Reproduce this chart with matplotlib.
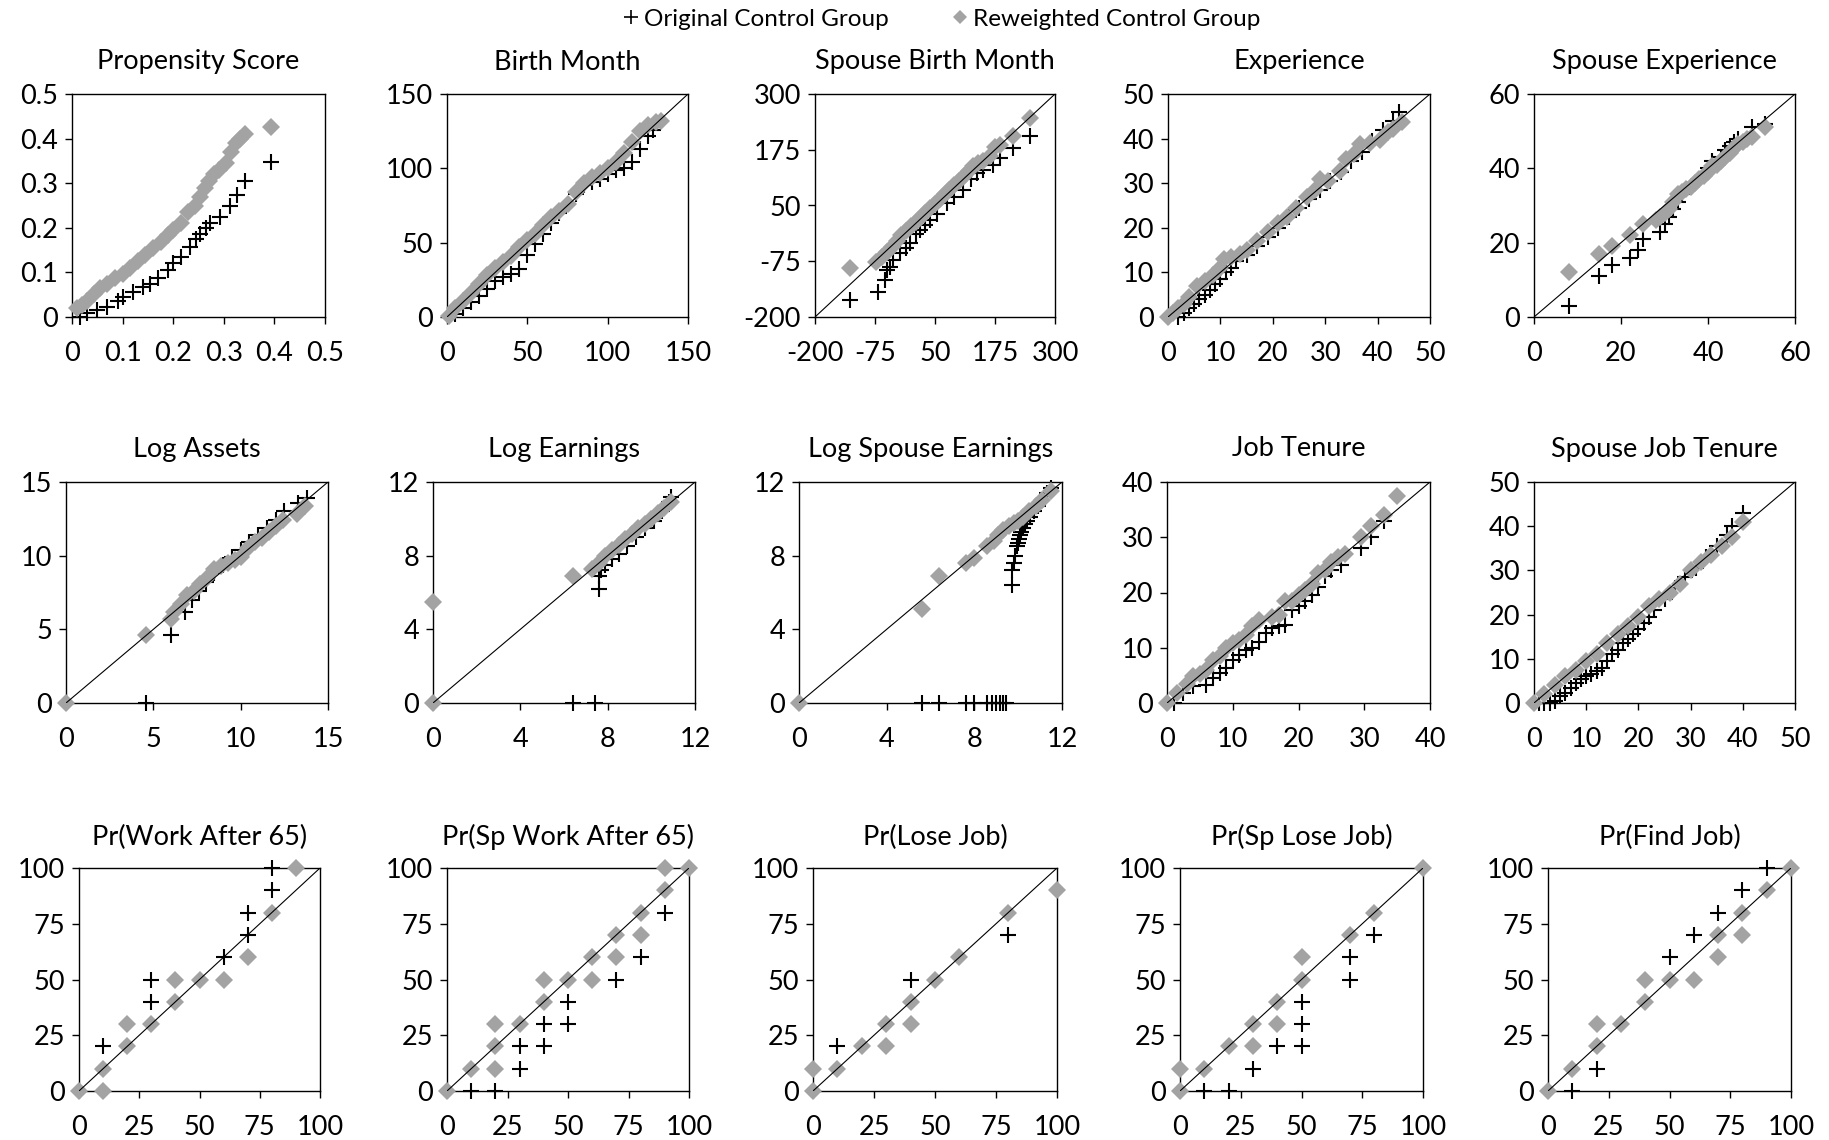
import matplotlib.pyplot as plt
from matplotlib.lines import Line2D

W, H = 1829, 1140
GRAY = "#a3a3a3"

plt.rcParams["font.family"] = ["Lato", "DejaVu Sans"]

titles = [
    "Propensity Score", "Birth Month", "Spouse Birth Month", "Experience", "Spouse Experience",
    "Log Assets", "Log Earnings", "Log Spouse Earnings", "Job Tenure", "Spouse Job Tenure",
    "Pr(Work After 65)", "Pr(Sp Work After 65)", "Pr(Lose Job)", "Pr(Sp Lose Job)", "Pr(Find Job)",
]

axis_ticks = [
    [0, 0.1, 0.2, 0.3, 0.4, 0.5],
    [0, 50, 100, 150],
    [-200, -75, 50, 175, 300],
    [0, 10, 20, 30, 40, 50],
    [0, 20, 40, 60],
    [0, 5, 10, 15],
    [0, 4, 8, 12],
    [0, 4, 8, 12],
    [0, 10, 20, 30, 40],
    [0, 10, 20, 30, 40, 50],
    [0, 25, 50, 75, 100],
    [0, 25, 50, 75, 100],
    [0, 25, 50, 75, 100],
    [0, 25, 50, 75, 100],
    [0, 25, 50, 75, 100],
]

# 45-degree reference line on every panel except the propensity score
show_diagonal = [False] + [True] * 14

# quantile pairs (treated, control) for each covariate
propensity_orig = [(0.015, 0.0), (0.03, 0.008), (0.05, 0.015), (0.07, 0.022), (0.09, 0.035),
                   (0.1, 0.045), (0.12, 0.055), (0.14, 0.068), (0.155, 0.075), (0.17, 0.088),
                   (0.19, 0.105), (0.2, 0.12), (0.215, 0.135), (0.233, 0.157), (0.245, 0.175),
                   (0.253, 0.187), (0.265, 0.2), (0.273, 0.21), (0.293, 0.225), (0.312, 0.25),
                   (0.326, 0.274), (0.342, 0.305), (0.393, 0.347)]
propensity_rew = [(0.01, 0.02), (0.02, 0.027), (0.03, 0.036), (0.043, 0.052), (0.055, 0.065),
                  (0.07, 0.075), (0.085, 0.088), (0.1, 0.097), (0.115, 0.11), (0.13, 0.125),
                  (0.145, 0.14), (0.16, 0.155), (0.175, 0.168), (0.19, 0.183), (0.2, 0.195),
                  (0.215, 0.21), (0.23, 0.235), (0.243, 0.25), (0.253, 0.27), (0.262, 0.29),
                  (0.27, 0.305), (0.28, 0.32), (0.29, 0.33), (0.305, 0.345), (0.315, 0.37),
                  (0.325, 0.39), (0.333, 0.4), (0.342, 0.41), (0.393, 0.427)]

birth_orig = [(5, 2), (10, 6), (15, 10), (20, 14), (25, 19), (30, 24), (35, 27), (40, 29),
              (45, 32), (50, 42), (55, 49), (60, 56), (65, 63), (70, 70), (75, 76), (80, 83),
              (85, 89), (90, 91), (95, 93), (100, 96), (105, 99), (110, 100), (115, 104),
              (120, 113), (125, 122), (128, 126)]
birth_rew = [(1, 1), (5, 6), (10, 11), (15, 16), (20, 22), (25, 28), (30, 33), (35, 37), (40, 41),
             (45, 47), (50, 52), (55, 56), (60, 62), (65, 67), (70, 71), (75, 76), (80, 84),
             (85, 90), (90, 94), (95, 97), (100, 100), (105, 104), (110, 110), (115, 118),
             (120, 125), (125, 129), (130, 131), (133, 132)]

sp_birth_orig = [(-128, -163), (-68, -145), (-54, -117), (-51, -95), (-44, -87), (-37, -72),
                 (-23, -57), (-10, -45), (-2, -35), (10, -15), (19, -5), (30, 7), (40, 18),
                 (55, 32), (74, 55), (90, 70), (109, 85), (125, 110), (137, 122), (151, 130),
                 (171, 141), (185, 156), (213, 179), (248, 205)]
sp_birth_rew = [(-128, -91), (-72, -76), (-60, -65), (-50, -55), (-40, -42), (-30, -30),
                (-20, -17), (-10, -7), (0, 3), (10, 14), (20, 24), (30, 34), (40, 44), (50, 54),
                (60, 64), (70, 75), (80, 85), (90, 95), (100, 105), (110, 117), (120, 128),
                (130, 138), (140, 145), (150, 150), (165, 160), (175, 182), (185, 185),
                (213, 205), (248, 246)]

exper_orig = [(2, 0), (3, 1), (4, 2), (5, 3), (6, 4), (7, 5), (8, 6), (9, 7.5), (10, 8.5),
              (11, 10), (12, 11), (13, 12.5), (15, 14), (17, 16), (19, 18), (21, 20),
              (23, 22.5), (25, 24.5), (27, 26.5), (29, 28.5), (31, 30.5), (33, 32.5), (35, 35),
              (37, 37), (39, 39.5), (41, 42), (43, 44), (44, 46)]
exper_rew = [(0, 0), (1, 1), (2, 2), (3, 3), (4, 4.5), (5.5, 7), (7, 8), (8.5, 9.5), (10, 11),
             (10.6, 13), (12, 13.5), (13.8, 14.2), (15, 15), (17, 17), (19, 19), (21, 21),
             (22.7, 22.4), (24.5, 24.5), (26.5, 27), (28, 28.5), (29, 31), (30.5, 30.5),
             (32.8, 32.8), (34, 35.5), (35.5, 36.5), (36.7, 38.8), (38.5, 39), (40.5, 39.6),
             (42, 41.5), (43, 42.2), (44.6, 43.7)]

sp_exper_orig = [(8, 3), (15, 11), (18, 14), (22, 16), (24, 18), (25, 21), (29, 23), (30, 25),
                 (31, 27), (32, 29), (33, 31), (34, 33), (36, 35), (38, 37), (40, 40), (41, 42),
                 (43, 43), (44, 45), (45, 46), (46, 47), (47, 48), (50, 51), (53, 52)]
sp_exper_rew = [(8, 12), (15, 17), (18, 19), (22, 22), (25, 25), (28, 26), (29, 27), (30, 28),
                (31, 29), (32, 31), (33, 33), (34, 33.5), (35, 34.5), (36, 35), (37, 36),
                (38, 37), (39, 38), (40, 39), (41, 40.5), (42, 41), (43, 42), (44, 43), (45, 44),
                (46, 45.5), (47, 46.5), (48, 47), (49, 48), (50, 48.5), (53, 51)]

assets_orig = [(4.6, 0), (6.0, 4.6), (6.8, 6.2), (7.2, 7.0), (7.6, 7.6), (8.0, 8.2), (8.5, 8.8),
               (9.0, 9.4), (9.5, 9.9), (10, 10.4), (10.5, 10.9), (11, 11.4), (11.5, 11.9),
               (12, 12.4), (12.5, 13), (13.3, 13.6), (13.8, 13.9)]
assets_rew = [(0, 0), (4.6, 4.6), (6.0, 5.7), (6.2, 6.2), (6.6, 6.7), (6.9, 7.3), (7.3, 7.6),
              (7.7, 8.1), (8.1, 8.5), (8.5, 9.1), (8.9, 9.3), (9.3, 9.5), (9.7, 9.7), (10, 9.9),
              (10.4, 10.5), (10.8, 10.9), (11.2, 11.2), (11.6, 11.6), (12, 12), (12.4, 12.4),
              (13.2, 12.8), (13.7, 13.4)]

earn_orig = [(6.4, 0), (7.4, 0), (7.6, 6.2), (7.6, 6.9), (7.7, 7.2), (7.9, 7.5), (8.2, 7.8),
             (8.5, 8.1), (8.9, 8.5), (9.3, 9.0), (9.7, 9.5), (10.1, 9.9), (10.5, 10.4),
             (10.8, 10.9), (10.9, 11.2)]
earn_rew = [(0, 0), (0, 5.5), (6.4, 6.9), (7.3, 7.3), (7.6, 7.6), (7.9, 8.0), (8.2, 8.3),
            (8.5, 8.6), (8.8, 8.9), (9.1, 9.2), (9.4, 9.5), (9.7, 9.7), (10, 10), (10.3, 10.3),
            (10.6, 10.6), (10.9, 10.9)]

sp_earn_orig = [(5.6, 0), (6.4, 0), (7.6, 0), (8.0, 0), (8.6, 0), (8.8, 0), (9.0, 0), (9.15, 0),
                (9.3, 0), (9.45, 0),
                (9.7, 6.4), (9.7, 7.2), (9.8, 7.6), (9.85, 8.0), (9.95, 8.5), (10.0, 8.7),
                (10.05, 8.9), (10.1, 9.1), (10.15, 9.3), (10.2, 9.5), (10.3, 9.7), (10.4, 9.9),
                (10.55, 10.1), (10.7, 10.4), (10.9, 10.7), (11.1, 11.0), (11.3, 11.4),
                (11.5, 11.7)]
sp_earn_rew = [(0, 0), (5.6, 5.1), (6.4, 6.9), (7.6, 7.6), (8.0, 7.9), (8.6, 8.5), (8.9, 8.8),
               (9.1, 9.1), (9.3, 9.4), (9.6, 9.6), (9.8, 9.8), (10.0, 9.9), (10.2, 10.1),
               (10.5, 10.4), (10.8, 10.7), (11.1, 11.0), (11.5, 11.5)]

tenure_orig = [(1, 0), (2.5, 1.8), (4, 3), (6, 3.3), (7, 4.5), (8, 5.5), (9, 6.3), (10, 7.8),
               (11, 8.7), (12, 9.6), (13, 10), (14, 11), (15, 12.6), (16, 13.5), (17, 13.9),
               (18, 14.2), (19, 16.9), (20, 17.5), (21, 18.5), (22, 19.5), (23, 21),
               (24, 22.9), (25, 24), (26.5, 25), (29.5, 28), (31, 30), (33, 33)]
tenure_rew = [(0, 0), (1.5, 1.8), (3, 3.5), (4, 4.8), (5, 5.2), (6, 6), (7, 7.8), (8, 8.5),
              (9, 9.9), (10, 10.8), (11, 11.4), (12, 12.3), (13, 13.9), (14, 15), (16, 15.5),
              (17, 16), (18, 18.5), (19, 18.5), (20, 19.5), (21, 20.5), (22, 21.5), (23, 23.5),
              (24, 24), (25, 25.5), (26, 26.5), (27, 27), (29.5, 30), (31, 32), (33, 34),
              (35, 37.5)]

sp_tenure_orig = [(1, 0), (2, 0), (3, 0), (4, 0.5), (5, 1.5), (6, 2.2), (7, 3.5), (8, 4.5),
                  (9, 5.5), (10, 6), (11, 6.5), (12, 7.2), (13, 8), (14, 9.5), (15, 11),
                  (16, 12), (17, 13.5), (18, 14.5), (19, 15.5), (20, 16.8), (21, 18),
                  (22, 19.5), (23, 21), (25, 23.5), (27, 26), (29, 28.5), (31, 30.5), (33, 33),
                  (35, 35.5), (37, 38), (38, 40), (40, 43)]
sp_tenure_rew = [(0, 0), (2, 2), (4, 4), (6, 6), (8, 7.5), (10, 9.5), (12, 11), (14, 13.5),
                 (16, 15.5), (18, 17.5), (20, 19.5), (22, 22), (24, 23.5), (26, 25), (28, 27),
                 (30, 30), (32, 32), (34, 33.5), (36, 35.5), (38, 37.5), (40, 41)]

work65_orig = [(10, 20), (30, 40), (30, 50), (60, 60), (70, 70), (70, 80), (80, 90), (80, 100)]
work65_rew = [(0, 0), (10, 0), (10, 10), (20, 20), (20, 30), (30, 30), (40, 40), (40, 50),
              (50, 50), (60, 50), (70, 60), (80, 80), (90, 100)]

sp_work65_orig = [(10, 0), (20, 0), (30, 10), (30, 20), (40, 20), (40, 30), (50, 30), (50, 40),
                  (70, 50), (80, 60), (90, 80)]
sp_work65_rew = [(0, 0), (10, 10), (20, 10), (20, 20), (20, 30), (30, 30), (40, 40), (40, 50),
                 (50, 50), (60, 50), (60, 60), (70, 60), (70, 70), (80, 70), (80, 80), (90, 90),
                 (90, 100), (100, 100)]

lose_orig = [(10, 20), (40, 50), (80, 70)]
lose_rew = [(0, 0), (0, 10), (10, 10), (20, 20), (30, 20), (30, 30), (40, 30), (40, 40),
            (50, 50), (60, 60), (80, 80), (100, 90)]

sp_lose_orig = [(10, 0), (20, 0), (30, 10), (40, 20), (50, 20), (50, 30), (50, 40), (70, 50),
                (70, 60), (80, 70)]
sp_lose_rew = [(0, 0), (0, 10), (10, 10), (20, 20), (30, 20), (30, 30), (40, 30), (40, 40),
               (50, 50), (50, 60), (70, 70), (80, 80), (100, 100)]

find_orig = [(10, 0), (20, 10), (50, 60), (60, 70), (70, 80), (80, 90), (90, 100)]
find_rew = [(0, 0), (10, 10), (20, 20), (20, 30), (30, 30), (40, 40), (40, 50), (50, 50),
            (60, 50), (70, 60), (70, 70), (80, 70), (80, 80), (90, 90), (100, 100)]

original_series = [propensity_orig, birth_orig, sp_birth_orig, exper_orig, sp_exper_orig,
                   assets_orig, earn_orig, sp_earn_orig, tenure_orig, sp_tenure_orig,
                   work65_orig, sp_work65_orig, lose_orig, sp_lose_orig, find_orig]
reweighted_series = [propensity_rew, birth_rew, sp_birth_rew, exper_rew, sp_exper_rew,
                     assets_rew, earn_rew, sp_earn_rew, tenure_rew, sp_tenure_rew,
                     work65_rew, sp_work65_rew, lose_rew, sp_lose_rew, find_rew]

# panel frames in pixels: (left, right) per panel, (top, bottom) per row
panel_x = [(72, 325), (447, 688), (815, 1055), (1168, 1430), (1534, 1795),
           (66, 328), (433, 695), (799, 1062), (1167, 1430), (1534, 1795),
           (79, 320), (447, 689), (813, 1057), (1180, 1423), (1548, 1791)]
row_y = [(94, 317), (482, 703), (868, 1091)]
title_y = [62, 449, 837]

fig = plt.figure(figsize=(W / 100, H / 100), dpi=100, facecolor="white")

for i, title in enumerate(titles):
    left, right = panel_x[i]
    top, bottom = row_y[i // 5]
    ax = fig.add_axes([left / W, 1 - bottom / H, (right - left) / W, (bottom - top) / H])
    ticks = axis_ticks[i]
    lo, hi = ticks[0], ticks[-1]
    ax.set_xlim(lo, hi)
    ax.set_ylim(lo, hi)

    ox, oy = zip(*original_series[i])
    ax.plot(ox, oy, ls="none", marker="+", ms=11, mew=1.5, color="black",
            clip_on=False, zorder=3)
    rx, ry = zip(*reweighted_series[i])
    ax.plot(rx, ry, ls="none", marker="D", ms=9, mew=0, color=GRAY,
            clip_on=False, zorder=3.5)
    if show_diagonal[i]:
        ax.plot([lo, hi], [lo, hi], color="black", lw=0.8, zorder=4)

    labels = [f"{t:g}" for t in ticks]
    ax.set_xticks(ticks)
    ax.set_xticklabels(labels)
    ax.set_yticks(ticks)
    ax.set_yticklabels(labels)
    ax.tick_params(direction="out", length=5, width=1, labelsize=19.5)
    ax.tick_params(axis="x", pad=12.5)
    ax.tick_params(axis="y", pad=5)
    for s in ax.spines.values():
        s.set_linewidth(1)

    fig.text((left + right) / 2 / W, 1 - title_y[i // 5] / H, title,
             ha="center", va="center", fontsize=19.5)

handles = [
    Line2D([], [], ls="none", marker="+", ms=10, mew=1.2, color="black"),
    Line2D([], [], ls="none", marker="D", ms=7, mew=0, color=GRAY),
]
fig.legend(handles, ["Original Control Group", "Reweighted Control Group"], ncol=2,
           loc="center", bbox_to_anchor=(0.515, 1 - 19 / H), frameon=False, fontsize=17.5,
           handlelength=0.6, handletextpad=0.25, columnspacing=2.6)

fig.savefig("out.png", dpi=100, facecolor="white")
